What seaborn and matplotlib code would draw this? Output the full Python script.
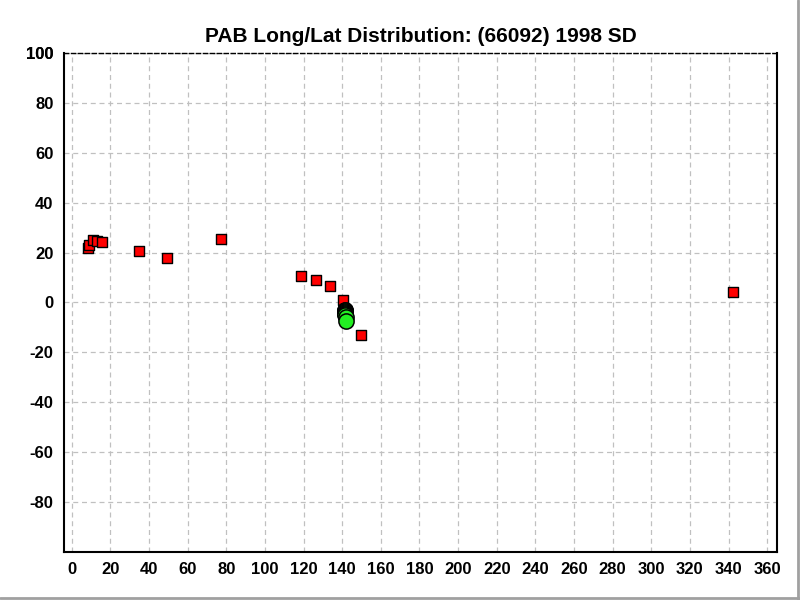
import matplotlib

matplotlib.use("Agg")
import matplotlib.pyplot as plt
import pandas as pd
import seaborn as sns
from matplotlib.lines import Line2D

# Observation positions (red squares), long/lat in degrees
obs_lon = [8.5, 9.0, 11.0, 13.0, 15.5, 34.7, 49.2, 77.2, 118.6, 126.4, 133.7, 140.4, 149.7, 342.5]
obs_lat = [21.7, 23.0, 25.0, 24.5, 24.3, 20.5, 17.7, 25.3, 10.8, 9.2, 6.8, 0.8, -12.9, 4.4]

# Predicted positions (green circles), heavily stacked near the end of the track
pred_lon = [141.3, 141.3, 141.4, 141.4, 141.5, 141.5, 141.6, 141.8, 142.0]
pred_lat = [-2.9, -3.2, -3.5, -3.8, -4.1, -4.5, -5.1, -5.9, -7.4]

x_ticks = list(range(0, 361, 20))
y_ticks = list(range(-80, 101, 20))

sns.set_style("white")
plt.rcParams["font.family"] = ["Liberation Sans", "DejaVu Sans"]
plt.rcParams["text.color"] = "black"
plt.rcParams["xtick.labelcolor"] = "black"
plt.rcParams["ytick.labelcolor"] = "black"

fig = plt.figure(figsize=(8, 6), dpi=100)
ax = fig.add_axes([0.08, 0.08, 0.891, 0.8317])

obs = pd.DataFrame({"lon": obs_lon, "lat": obs_lat})
pred = pd.DataFrame({"lon": pred_lon, "lat": pred_lat})

sns.scatterplot(data=obs, x="lon", y="lat", marker="s", s=55, color="#ff0000",
                edgecolor="black", linewidth=1, ax=ax, zorder=3)
sns.scatterplot(data=pred, x="lon", y="lat", marker="o", s=120, color="#22ee22",
                edgecolor="black", linewidth=1.1, ax=ax, zorder=4)

ax.set_xlim(-4, 365)
ax.set_ylim(-100, 100)
ax.set_xticks(x_ticks)
ax.set_yticks(y_ticks + [100])
ax.set_yticklabels([str(v) for v in y_ticks] + ["100"])
ax.grid(True, linestyle=(0, (4, 3)), color="#c0c0c0", linewidth=0.9)
ax.set_axisbelow(True)
ax.tick_params(axis="both", length=4, color="#999999", labelsize=12)
for lbl in ax.get_xticklabels() + ax.get_yticklabels():
    lbl.set_fontweight("bold")

for side in ["left", "right", "bottom"]:
    ax.spines[side].set_color("black")
    ax.spines[side].set_linewidth(1.5)
ax.spines["top"].set_linestyle((0, (3, 2)))
ax.spines["top"].set_color("black")
ax.spines["top"].set_linewidth(1)

ax.set_xlabel("")
ax.set_ylabel("")
ax.set_title("PAB Long/Lat Distribution: (66092) 1998 SD", fontsize=15,
             fontweight="bold", pad=8, color="black")

# window frame lines at right and bottom edges
fig.add_artist(Line2D([0.997, 0.997], [0, 1], color="#a0a0a0", linewidth=2,
                      transform=fig.transFigure))
fig.add_artist(Line2D([0, 1], [0.003, 0.003], color="#a0a0a0", linewidth=2,
                      transform=fig.transFigure))

fig.savefig("out.png", dpi=100)
